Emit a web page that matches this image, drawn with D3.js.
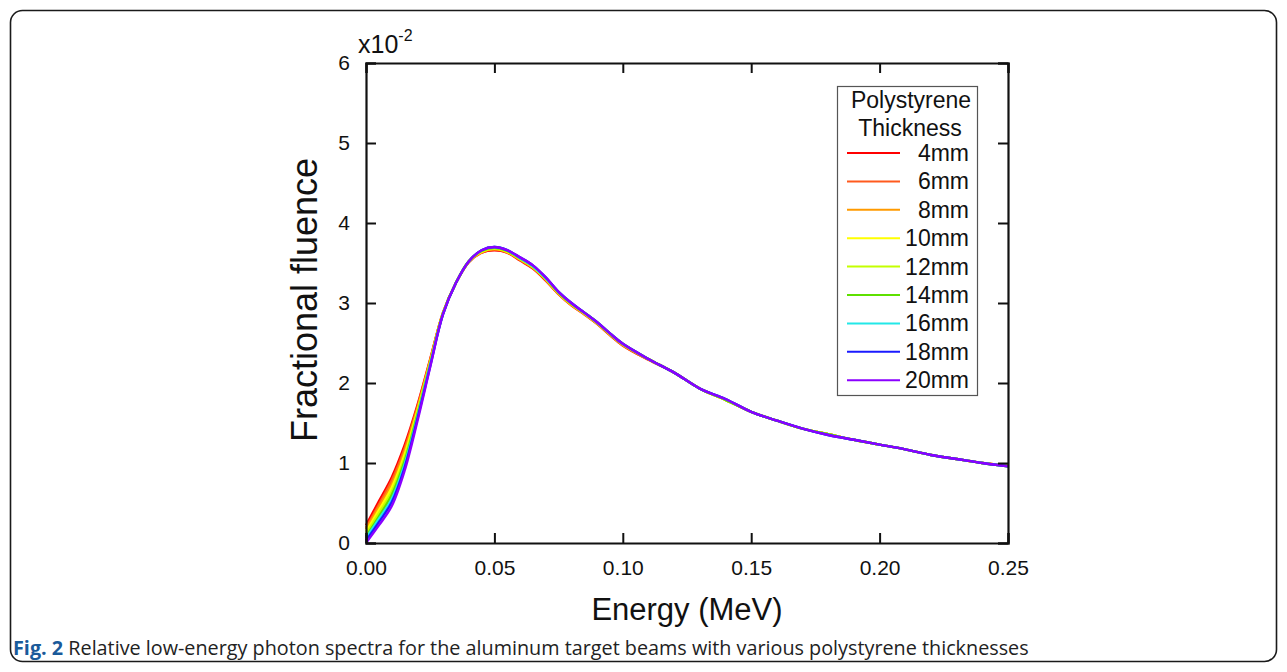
<!DOCTYPE html>
<html>
<head>
<meta charset="utf-8">
<script src="https://cdn.jsdelivr.net/npm/d3@7"></script>
<style>
  body { margin: 0; background: #fff; }
  text { font-family: "Liberation Sans", Arial, sans-serif; }
</style>
</head>
<body>
<div id="chart"></div>
<script>
// Energy grid (MeV)
var energy = [0, 0.005, 0.01, 0.015, 0.02, 0.025, 0.03, 0.035, 0.04, 0.045, 0.05, 0.055, 0.06, 0.065, 0.07, 0.075, 0.08, 0.085, 0.09, 0.095, 0.10,
  0.11, 0.12, 0.13, 0.14, 0.15, 0.16, 0.17, 0.18, 0.19, 0.20, 0.21, 0.22, 0.23, 0.24, 0.25];

// fractional fluence (x10^-2) for each polystyrene thickness
var f4mm  = [0.22, 0.52, 0.82, 1.22, 1.72, 2.30, 2.88, 3.25, 3.51, 3.63, 3.66, 3.63, 3.53, 3.43, 3.28, 3.11, 2.97, 2.86, 2.74, 2.60, 2.47, 2.29, 2.13, 1.93, 1.79, 1.64, 1.53, 1.43, 1.36, 1.29, 1.23, 1.17, 1.10, 1.05, 1.00, 0.97];
var f6mm  = [0.19, 0.48, 0.78, 1.18, 1.70, 2.29, 2.88, 3.25, 3.51, 3.63, 3.67, 3.63, 3.54, 3.44, 3.29, 3.11, 2.97, 2.86, 2.74, 2.60, 2.47, 2.29, 2.13, 1.93, 1.79, 1.64, 1.53, 1.43, 1.36, 1.29, 1.23, 1.17, 1.10, 1.05, 1.00, 0.97];
var f8mm  = [0.17, 0.45, 0.73, 1.14, 1.67, 2.28, 2.88, 3.25, 3.51, 3.64, 3.67, 3.64, 3.54, 3.44, 3.29, 3.12, 2.98, 2.87, 2.75, 2.61, 2.48, 2.30, 2.13, 1.93, 1.79, 1.64, 1.53, 1.43, 1.36, 1.29, 1.23, 1.17, 1.10, 1.05, 1.00, 0.97];
var f10mm = [0.14, 0.41, 0.69, 1.10, 1.65, 2.26, 2.87, 3.25, 3.52, 3.64, 3.68, 3.64, 3.55, 3.45, 3.30, 3.12, 2.98, 2.87, 2.75, 2.61, 2.48, 2.30, 2.13, 1.93, 1.79, 1.64, 1.53, 1.43, 1.36, 1.29, 1.23, 1.17, 1.10, 1.05, 1.00, 0.96];
var f12mm = [0.11, 0.37, 0.64, 1.06, 1.62, 2.25, 2.87, 3.25, 3.52, 3.65, 3.68, 3.65, 3.55, 3.45, 3.30, 3.13, 2.99, 2.87, 2.75, 2.61, 2.48, 2.30, 2.13, 1.93, 1.79, 1.64, 1.53, 1.43, 1.36, 1.29, 1.23, 1.17, 1.10, 1.05, 1.00, 0.96];
var f14mm = [0.08, 0.33, 0.60, 1.02, 1.60, 2.24, 2.87, 3.25, 3.52, 3.65, 3.69, 3.65, 3.56, 3.46, 3.31, 3.13, 2.99, 2.88, 2.76, 2.62, 2.49, 2.30, 2.13, 1.93, 1.79, 1.64, 1.53, 1.43, 1.36, 1.29, 1.23, 1.17, 1.10, 1.05, 1.00, 0.96];
var f16mm = [0.06, 0.30, 0.55, 0.98, 1.57, 2.23, 2.86, 3.25, 3.52, 3.66, 3.70, 3.66, 3.56, 3.46, 3.31, 3.14, 3.00, 2.88, 2.76, 2.62, 2.49, 2.30, 2.13, 1.93, 1.80, 1.64, 1.53, 1.43, 1.35, 1.29, 1.23, 1.17, 1.10, 1.05, 1.00, 0.96];
var f18mm = [0.03, 0.26, 0.51, 0.94, 1.55, 2.21, 2.86, 3.25, 3.52, 3.66, 3.70, 3.66, 3.57, 3.47, 3.32, 3.14, 3.00, 2.88, 2.76, 2.62, 2.49, 2.30, 2.13, 1.93, 1.80, 1.64, 1.53, 1.43, 1.35, 1.29, 1.23, 1.17, 1.10, 1.05, 1.00, 0.96];
var f20mm = [0.00, 0.22, 0.46, 0.90, 1.52, 2.20, 2.86, 3.25, 3.52, 3.66, 3.70, 3.66, 3.57, 3.47, 3.32, 3.14, 3.00, 2.88, 2.76, 2.62, 2.49, 2.30, 2.13, 1.93, 1.80, 1.64, 1.53, 1.43, 1.35, 1.29, 1.23, 1.17, 1.10, 1.05, 1.00, 0.96];

var seriesNames = ["4mm", "6mm", "8mm", "10mm", "12mm", "14mm", "16mm", "18mm", "20mm"];
var seriesValues = [f4mm, f6mm, f8mm, f10mm, f12mm, f14mm, f16mm, f18mm, f20mm];
var seriesColors = ["#ff0000", "#ff5a1e", "#ff9a00", "#ffff00", "#c4ff00", "#5ee000", "#22e8e8", "#1a1aff", "#8a00ff"];

var xTicks = [0, 0.05, 0.10, 0.15, 0.20, 0.25];
var yTicks = [0, 1, 2, 3, 4, 5, 6];

var svgWidth = 1287;
var svgHeight = 672;

var margin = { top: 63, left: 366 };
var width = 642;
var height = 480;

var svg = d3.select("#chart")
  .append("svg")
  .attr("width", svgWidth)
  .attr("height", svgHeight);

// outer rounded frame
svg.append("rect")
  .attr("x", 10.5).attr("y", 10.5)
  .attr("width", 1266).attr("height", 651)
  .attr("rx", 12).attr("ry", 12)
  .attr("fill", "none")
  .attr("stroke", "#1a1a1a")
  .attr("stroke-width", 1.6);

var chartGroup = svg.append("g")
  .attr("transform", `translate(${margin.left}, ${margin.top})`);

var xScale = d3.scaleLinear().domain([0, 0.25]).range([0, width]);
var yScale = d3.scaleLinear().domain([0, 6]).range([height, 0]);

// curves
var line = d3.line()
  .x((d, i) => xScale(energy[i]))
  .y(d => yScale(d))
  .curve(d3.curveCatmullRom.alpha(0.5));

chartGroup.selectAll(".curve")
  .data(seriesValues)
  .enter()
  .append("path")
  .attr("class", "curve")
  .attr("d", d => line(d))
  .attr("fill", "none")
  .attr("stroke", (d, i) => seriesColors[i])
  .attr("stroke-width", 2.4);

// axes (ticks inward on all four sides)
var tickLen = 10;
var bottomAxis = d3.axisBottom(xScale).tickValues(xTicks).tickSize(-tickLen).tickPadding(17)
  .tickFormat(d3.format(".2f"));
var topAxis = d3.axisTop(xScale).tickValues(xTicks).tickSize(-tickLen).tickFormat("");
var leftAxis = d3.axisLeft(yScale).tickValues(yTicks).tickSize(-tickLen).tickPadding(16)
  .tickFormat(d3.format("d"));
var rightAxis = d3.axisRight(yScale).tickValues(yTicks).tickSize(-tickLen).tickFormat("");

function styleAxis(g) {
  g.select(".domain").attr("stroke", "#111").attr("stroke-width", 2.2);
  g.selectAll(".tick line").attr("stroke", "#111").attr("stroke-width", 2);
  g.selectAll(".tick text")
    .attr("fill", "#111")
    .style("font-size", "21px")
    .style("font-family", "'Liberation Sans', Arial, sans-serif");
}

chartGroup.append("g").attr("transform", `translate(0, ${height})`).call(bottomAxis).call(styleAxis);
chartGroup.append("g").call(topAxis).call(styleAxis);
chartGroup.append("g").call(leftAxis).call(styleAxis);
chartGroup.append("g").attr("transform", `translate(${width}, 0)`).call(rightAxis).call(styleAxis);

// multiplier label
var mult = chartGroup.append("text")
  .attr("x", -8).attr("y", -10)
  .attr("fill", "#111")
  .style("font-size", "25px");
mult.append("tspan").text("x10");
mult.append("tspan").attr("dy", -12).style("font-size", "16px").text("-2");

// axis labels
chartGroup.append("text")
  .attr("transform", `translate(${-49}, ${height / 2 - 3}) rotate(-90)`)
  .attr("text-anchor", "middle")
  .attr("fill", "#111")
  .style("font-size", "36px")
  .text("Fractional fluence");

chartGroup.append("text")
  .attr("x", width / 2)
  .attr("y", height + 77)
  .attr("text-anchor", "middle")
  .attr("fill", "#111")
  .style("font-size", "31px")
  .text("Energy (MeV)");

// legend
var legend = svg.append("g");
legend.append("rect")
  .attr("x", 837.5).attr("y", 86.5)
  .attr("width", 140).attr("height", 309)
  .attr("fill", "#fff")
  .attr("stroke", "#555")
  .attr("stroke-width", 1.2);

legend.append("text").attr("x", 911).attr("y", 108).attr("text-anchor", "middle")
  .attr("fill", "#111").style("font-size", "23px").text("Polystyrene");
legend.append("text").attr("x", 910).attr("y", 136).attr("text-anchor", "middle")
  .attr("fill", "#111").style("font-size", "23px").text("Thickness");

var legendRows = legend.selectAll(".row")
  .data(seriesNames)
  .enter()
  .append("g")
  .attr("class", "row")
  .attr("transform", (d, i) => `translate(0, ${153 + i * 28.4})`);

legendRows.append("line")
  .attr("x1", 847).attr("x2", 900)
  .attr("y1", 0).attr("y2", 0)
  .attr("stroke", (d, i) => seriesColors[i])
  .attr("stroke-width", 2);

legendRows.append("text")
  .attr("x", 969).attr("y", 8)
  .attr("text-anchor", "end")
  .attr("fill", "#111")
  .style("font-size", "23px")
  .text(d => d);

// caption
var caption = svg.append("text")
  .attr("x", 13).attr("y", 655)
  .attr("fill", "#222")
  .style("font-family", "'Open Sans', sans-serif")
  .style("font-size", "19.8px");
caption.append("tspan").style("font-weight", "bold").attr("fill", "#1a5a9a").text("Fig. 2");
caption.append("tspan").text(" Relative low-energy photon spectra for the aluminum target beams with various polystyrene thicknesses");
</script>
</body>
</html>
